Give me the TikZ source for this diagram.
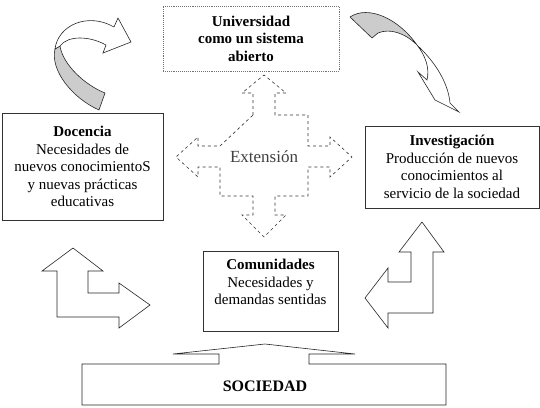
\documentclass[tikz,border=0pt]{standalone}
\usepackage{fontspec}
\setmainfont{Liberation Serif}
\tikzset{
  caja/.style={draw=black!80, line width=0.9pt, align=center, font=\fontsize{15}{17.5}\selectfont, inner sep=2pt},
  flecha/.style={draw=black!85, line width=0.6pt, line join=miter, fill=white},
  sombra/.style={fill=black!20},
}
\begin{document}
\begin{tikzpicture}[x=1pt,y=-1pt]
\useasboundingbox (0,0) rectangle (540,407);
% cajas
\node [caja, draw=black!55, densely dotted, minimum width=176, minimum height=65] (univ) at (251,38.5) {\textbf{Universidad}\\\textbf{como un sistema}\\\textbf{abierto}};
\node [caja, minimum width=161, minimum height=107] (doc) at (82.5,166.5) {\textbf{Docencia}\\Necesidades de\\nuevos conocimientoS\\y nuevas prácticas\\educativas};
\node [caja, minimum width=174, minimum height=82] (inv) at (452,167) {\textbf{Investigación}\\Producción de nuevos\\conocimientos al\\servicio de la sociedad};
\node [caja, minimum width=135, minimum height=80] (com) at (270.5,291) {\textbf{Comunidades}\\Necesidades y\\demandas sentidas\\\mbox{}};
% extension
\draw [dashed, black!80, line width=0.6pt] (253,115) -- (253,93) -- (242,93) -- (264,75) -- (286,93) -- (275,93) -- (275,115) -- (308,115) -- (308,146) -- (330,146) -- (330,137) -- (352,157) -- (330,177) -- (330,167) -- (308,167) -- (308,196) -- (275,196) -- (275,215) -- (286,215) -- (264,237) -- (242,215) -- (253,215) -- (253,196) -- (220,196) -- (220,167) -- (198,167) -- (198,177) -- (176,157) -- (198,137) -- (198,146) -- (220,146) -- cycle;
\node [font=\fontsize{17}{20}\selectfont, text=black!75] (ext) at (264,157) {Extensión};
% flecha curva izquierda
\draw [flecha, sombra] (55,49) .. controls (50,70) and (72,98) .. (99,110) -- (105,93) .. controls (85,85) and (63,65) .. (60,46) -- cycle;
\draw [flecha] (55,49) .. controls (58,25) and (88,12) .. (114,27) -- (118,18) -- (131,42) -- (103,53) -- (106,45) .. controls (90,36) and (68,35) .. (60,46) -- cycle;
% flecha curva derecha
\draw [flecha, sombra] (350,17) .. controls (368,5) and (398,18) .. (417,45) .. controls (405,33) and (390,28) .. (378,33) -- (372,38) -- cycle;
\draw [flecha] (417,45) .. controls (435,62) and (448,82) .. (450,103) -- (459,112) -- (435,100) -- (418,72) -- (427,80) .. controls (430,68) and (425,55) .. (417,45) -- cycle;
% flechas dobles
\draw [flecha] (73,248) -- (103,271) -- (88,271) -- (88,293) -- (119,293) -- (119,283) -- (150,305) -- (119,328) -- (119,317) -- (57,317) -- (57,271) -- (42,271) -- cycle;
\draw [flecha] (422,222) -- (444,252) -- (433,252) -- (433,313) -- (388,313) -- (388,328) -- (365,298) -- (388,268) -- (388,282) -- (411,282) -- (411,252) -- (399,252) -- cycle;
% sociedad
\draw [flecha] (82,364) -- (219,364) -- (219,354) -- (173,354) -- (265,344) -- (355,354) -- (309,354) -- (309,364) -- (446,364) -- (446,405) -- (82,405) -- cycle;
\node [font=\fontsize{16}{19}\selectfont\bfseries] (soc) at (265,386) {SOCIEDAD};
\end{tikzpicture}
\end{document}
